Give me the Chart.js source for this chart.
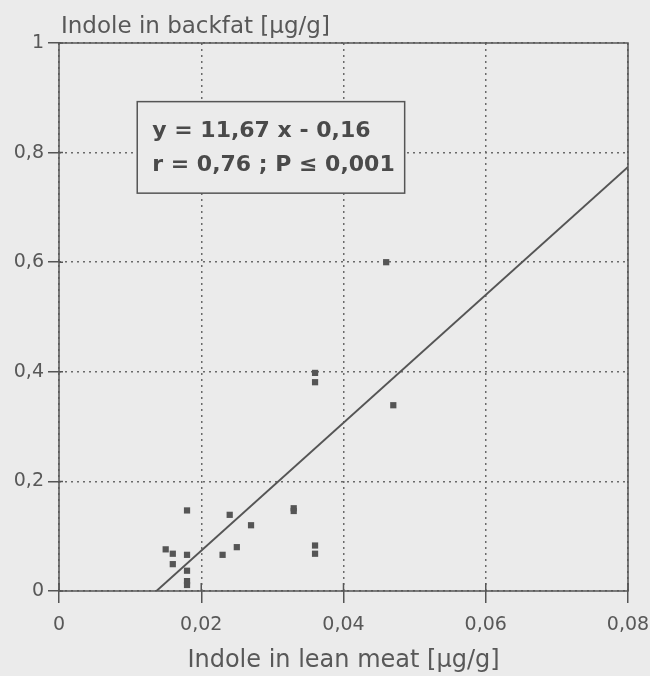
<!DOCTYPE html>
<html>
<head>
<meta charset="utf-8">
<script src="https://cdn.jsdelivr.net/npm/chart.js@4"></script>
<style>
  html, body { margin: 0; padding: 0; background: #ebebeb; }
  #wrap { width: 650px; height: 676px; }
</style>
</head>
<body>
<div id="wrap"><canvas id="grafico" width="650" height="676"></canvas></div>
<script>
// indole values
const leanMeat = [0.018, 0.015, 0.016, 0.016, 0.018, 0.018, 0.018, 0.018,
                  0.024, 0.023, 0.025, 0.027, 0.033, 0.033, 0.036, 0.036,
                  0.046, 0.036, 0.036, 0.047];
const backfat  = [0.147, 0.076, 0.068, 0.049, 0.066, 0.037, 0.018, 0.011,
                  0.139, 0.066, 0.080, 0.120, 0.151, 0.146, 0.083, 0.068,
                  0.600, 0.398, 0.381, 0.339];

// regression line ends as drawn
const lineX = [0.0137, 0.08];
const lineY = [0, 0.774];

const xTickLabels = ['0', '0,02', '0,04', '0,06', '0,08'];
const yTickLabels = ['0', '0,2', '0,4', '0,6', '0,8', '1'];

const yTitle = 'Indole in backfat [\u00b5g/g]';
const xTitle = 'Indole in lean meat [\u00b5g/g]';
const infoLines = ['y = 11,67 x - 0,16', 'r = 0,76 ; P \u2264 0,001'];
// box corners in data units
const infoBox = { x0: 0.0110, x1: 0.0486, y0: 0.893, y1: 0.726 };

const FONT = "'DejaVu Sans', sans-serif";
const INK = '#555555';
const TXT = '#585858';
const BG = '#ebebeb';

const paper = {
  id: 'paper',
  beforeDraw(chart) {
    const ctx = chart.ctx;
    ctx.save();
    ctx.fillStyle = BG;
    ctx.fillRect(0, 0, chart.width, chart.height);
    ctx.restore();
  },
  afterDraw(chart) {
    const ctx = chart.ctx;
    const a = chart.chartArea;
    const xs = chart.scales.x, ys = chart.scales.y;
    ctx.save();
    // frame
    ctx.strokeStyle = INK;
    ctx.lineWidth = 1.5;
    ctx.strokeRect(a.left, a.top, a.right - a.left, a.bottom - a.top);
    // inner tick stubs
    ctx.beginPath();
    xs.ticks.forEach(t => {
      const px = xs.getPixelForValue(t.value);
      ctx.moveTo(px, a.bottom);
      ctx.lineTo(px, a.bottom - 8);
    });
    ys.ticks.forEach(t => {
      const py = ys.getPixelForValue(t.value);
      ctx.moveTo(a.left, py);
      ctx.lineTo(a.left + 4, py);
    });
    ctx.stroke();

    // y axis title, horizontal above the plot
    ctx.fillStyle = TXT;
    ctx.font = '23px ' + FONT;
    ctx.textBaseline = 'alphabetic';
    ctx.textAlign = 'left';
    ctx.fillText(yTitle, a.left + 2, a.top - 10);

    // equation box
    const bx0 = xs.getPixelForValue(infoBox.x0), bx1 = xs.getPixelForValue(infoBox.x1);
    const by0 = ys.getPixelForValue(infoBox.y0), by1 = ys.getPixelForValue(infoBox.y1);
    ctx.fillStyle = BG;
    ctx.fillRect(bx0, by0, bx1 - bx0, by1 - by0);
    ctx.strokeStyle = INK;
    ctx.lineWidth = 1.5;
    ctx.strokeRect(bx0, by0, bx1 - bx0, by1 - by0);
    ctx.fillStyle = '#4a4a4a';
    ctx.font = 'bold 22px ' + FONT;
    ctx.textBaseline = 'middle';
    ctx.fillText(infoLines[0], bx0 + 15, by0 + 30);
    ctx.fillText(infoLines[1], bx0 + 15, by0 + 64);
    ctx.restore();
  }
};

const gridStyle = {
  color: '#6a6a6a',
  lineWidth: 1.5,
  tickColor: INK,
  tickWidth: 1.5,
  tickBorderDash: []
};

const ctx = document.getElementById('grafico').getContext('2d');
new Chart(ctx, {
  type: 'scatter',
  data: {
    datasets: [{
      label: 'Indole',
      data: leanMeat.map((x, i) => ({ x: x, y: backfat[i] })),
      backgroundColor: INK,
      borderColor: INK,
      pointStyle: 'rect',
      pointRadius: 4.4,
      borderWidth: 0
    }, {
      type: 'line',
      label: 'Regression',
      data: lineX.map((x, i) => ({ x: x, y: lineY[i] })),
      borderColor: INK,
      borderWidth: 1.9,
      pointRadius: 0,
      fill: false
    }]
  },
  options: {
    responsive: false,
    animation: false,
    layout: { autoPadding: false, padding: { top: 43, left: 0, right: 0, bottom: 0 } },
    plugins: { legend: { display: false }, tooltip: { enabled: false } },
    scales: {
      x: {
        type: 'linear',
        min: 0, max: 0.08,
        afterFit: s => { s.height = 85; s.paddingRight = 22; s.paddingLeft = 0; },
        ticks: {
          stepSize: 0.02,
          padding: 11,
          color: TXT,
          font: { family: FONT, size: 19 },
          callback: (v, i) => xTickLabels[i]
        },
        grid: Object.assign({ tickLength: 12 }, gridStyle),
        border: { display: false, dash: [2, 4] },
        title: {
          display: true,
          text: xTitle,
          color: TXT,
          font: { family: FONT, size: 24 },
          padding: { top: 0, bottom: 1 }
        }
      },
      y: {
        type: 'linear',
        min: 0, max: 1,
        afterFit: s => { s.width = 59; },
        ticks: {
          stepSize: 0.2,
          padding: 4,
          color: TXT,
          font: { family: FONT, size: 19 },
          callback: (v, i) => yTickLabels[i]
        },
        grid: Object.assign({ tickLength: 11 }, gridStyle),
        border: { display: false, dash: [2, 4] }
      }
    }
  },
  plugins: [paper]
});
</script>
</body>
</html>
